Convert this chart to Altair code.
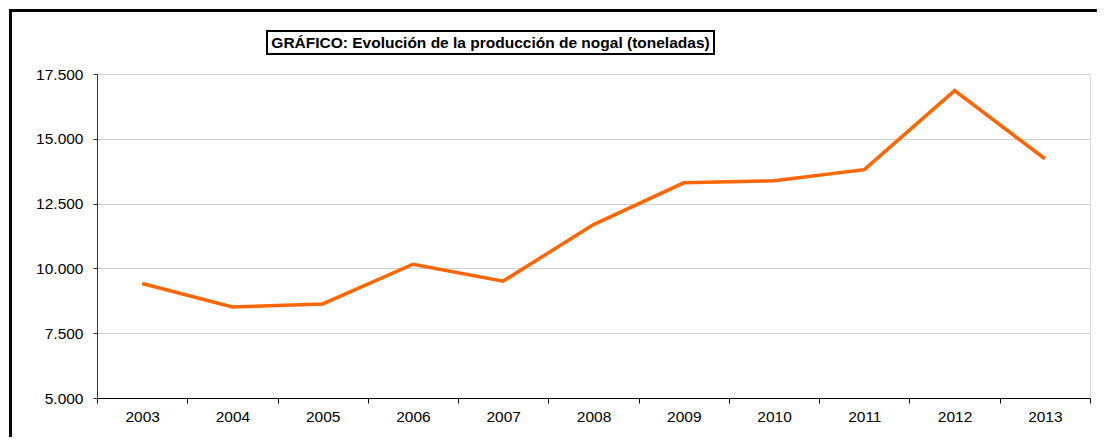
import altair as alt
import pandas as pd

years = ["2003", "2004", "2005", "2006", "2007", "2008", "2009", "2010", "2011", "2012", "2013"]
production = [9420, 8510, 8630, 10160, 9510, 11690, 13300, 13385, 13810, 16860, 14230]
y_ticks = [5000, 7500, 10000, 12500, 15000, 17500]
title_text = "GRÁFICO: Evolución de la producción de nogal (toneladas)"

df = pd.DataFrame({"year": years, "value": production})
FONT = "Liberation Sans"
FS = 15.5

line = alt.Chart(df).mark_line(
    color="#FF6600", strokeWidth=3.5, strokeJoin="miter", strokeCap="butt"
).encode(
    x=alt.X("year:O", bandPosition=0.5,
            scale=alt.Scale(type="band", paddingInner=0, paddingOuter=0),
            axis=alt.Axis(title=None, labelAngle=0, tickBand="extent", grid=False,
                          domainColor="#000000", tickColor="#000000", tickSize=5,
                          labelPadding=6, labelFontSize=FS, labelFont=FONT,
                          labelColor="#000000")),
    y=alt.Y("value:Q",
            scale=alt.Scale(domain=[5000, 17500], nice=False, zero=False),
            axis=alt.Axis(title=None, values=y_ticks,
                          labelExpr="replace(format(datum.value, ','), ',', '.')",
                          grid=True, gridColor="#d0d0d0", gridWidth=1.2,
                          domainColor="#333333", tickColor="#333333", tickSize=4,
                          labelPadding=10, labelFontSize=FS, labelFont=FONT,
                          labelColor="#000000")),
)

tdf = pd.DataFrame({"t": [title_text]})
frame_left = alt.Chart(tdf).mark_rule(color="#000000", strokeWidth=3).encode(
    x=alt.value(-86.5), y=alt.value(-65), y2=alt.value(400))
frame_top = alt.Chart(tdf).mark_rule(color="#000000", strokeWidth=3).encode(
    x=alt.value(-88), x2=alt.value(1100), y=alt.value(-63.5))
title_box = alt.Chart(tdf).mark_rect(fill="#ffffff", stroke="#000000", strokeWidth=2).encode(
    x=alt.value(170), x2=alt.value(617), y=alt.value(-43), y2=alt.value(-20))
title_lbl = alt.Chart(tdf).mark_text(
    font=FONT, fontSize=FS, fontWeight="bold", color="#000000",
    align="center", baseline="middle").encode(
    x=alt.value(393.5), y=alt.value(-31), text="t:N")

chart = alt.layer(frame_left, frame_top, title_box, title_lbl, line).properties(
    width=993, height=324,
    padding={"left": 89, "top": 66, "right": 7, "bottom": 39},
    autosize=alt.AutoSizeParams(type="none"),
).configure_view(stroke="#555555", strokeWidth=1).configure(background="#ffffff")

chart.save("out.html", embed_options={"renderer": "svg", "actions": False})
